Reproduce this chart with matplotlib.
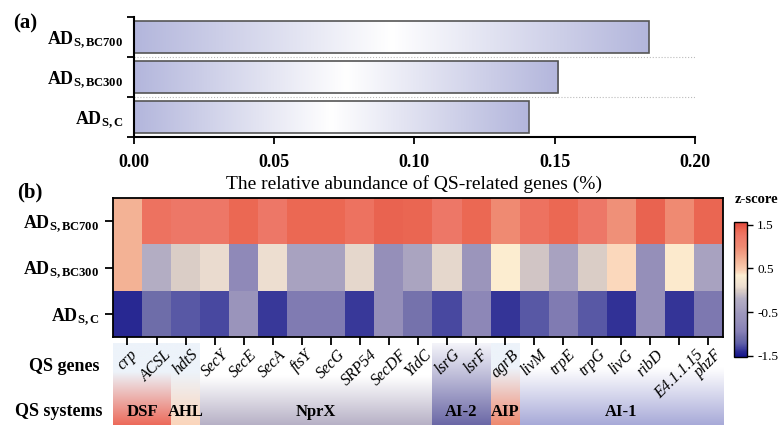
import numpy as np
import matplotlib
matplotlib.use("Agg")
from matplotlib import pyplot as plt
from matplotlib.colors import LinearSegmentedColormap

plt.rcParams['font.family'] = ['Liberation Serif', 'DejaVu Serif']
plt.rcParams['mathtext.fontset'] = 'custom'
plt.rcParams['mathtext.rm'] = 'Liberation Serif'
plt.rcParams['mathtext.bf'] = 'Liberation Serif:bold'
plt.rcParams['mathtext.it'] = 'Liberation Serif:italic'
plt.rcParams['axes.unicode_minus'] = False

# ---- data ----
samples = [r'$\mathbf{AD_{S,BC700}}$', r'$\mathbf{AD_{S,BC300}}$', r'$\mathbf{AD_{S,C}}$']
abundance = [0.1836, 0.1512, 0.1408]   # BC700, BC300, C

genes = ['crp', 'ACSL', 'hdtS', 'SecY', 'SecE', 'SecA', 'ftsY', 'SecG', 'SRP54',
         'SecDF', 'YidC', 'lsrG', 'lsrF', 'agrB', 'livM', 'trpE', 'trpG', 'livG',
         'ribD', 'E4.1.1.15', 'phzF']
z_bc700 = [0.70, 1.30, 1.25, 1.25, 1.38, 1.25, 1.38, 1.38, 1.30, 1.41, 1.40,
           1.25, 1.38, 1.00, 1.30, 1.38, 1.25, 0.95, 1.41, 1.00, 1.40]
z_bc300 = [0.70, -0.20, 0.00, 0.08, -0.80, 0.10, -0.40, -0.40, 0.05, -0.70, -0.35,
           0.05, -0.55, 0.35, -0.05, -0.40, 0.00, 0.43, -0.70, 0.37, -0.38]
z_c = [-1.41, -1.10, -1.25, -1.30, -0.58, -1.35, -0.98, -0.98, -1.35, -0.70, -1.05,
       -1.30, -0.83, -1.37, -1.25, -0.98, -1.25, -1.38, -0.70, -1.37, -1.00]

systems = ['DSF', 'AHL', 'NprX', 'AI-2', 'AIP', 'AI-1']
system_sizes = [2, 1, 8, 2, 1, 7]
system_colors = ['#ec6b5b', '#fbd5bb', '#b7b1c6', '#6b68a6', '#ef8a70', '#a8aad8']
system_tops = ['#edf3fa', '#edf3fa', '#ffffff', '#f4f4fa', '#edf3fa', '#ffffff']
system_start = [0.35, 0.35, 0.40, 0.0, 0.30, 0.30]

fig = plt.figure(figsize=(7.79, 4.25), dpi=100)

# ---- panel (a) ----
ax = fig.add_axes([0.172, 0.678, 0.720, 0.282])
bar_cmap = LinearSegmentedColormap.from_list('bw', ['#b3b6dc', '#ffffff', '#b3b6dc'])
ypos = [2, 1, 0]
h = 0.8
grad = np.linspace(0, 1, 256).reshape(1, -1)
for y, v in zip(ypos, abundance):
    ax.imshow(grad, cmap=bar_cmap, aspect='auto', extent=(0, v, y - h / 2, y + h / 2), zorder=1)
ax.barh(ypos, abundance, height=h, fill=False, edgecolor='#555555', linewidth=1.2, zorder=2)
for b in [0.5, 1.5]:
    ax.plot([0, 0.2], [b, b], ls=':', color='#bbbbbb', lw=0.8, zorder=0)
ax.set_xlim(0, 0.2)
ax.set_ylim(-0.5, 2.5)
ax.set_xticks([0, 0.05, 0.1, 0.15, 0.2])
ax.set_xticklabels(['0.00', '0.05', '0.10', '0.15', '0.20'], fontweight='bold', fontsize=13)
ax.set_yticks([-0.5, 0.5, 1.5, 2.5])
ax.set_yticklabels([])
ax.set_yticks(ypos, minor=True)
ax.set_yticklabels(samples, minor=True, fontsize=13)
ax.tick_params(axis='y', which='minor', length=0, pad=8)
ax.tick_params(axis='y', which='major', length=5, width=1.3, direction='out')
ax.tick_params(axis='x', length=5, width=1.3, pad=7)
ax.spines['top'].set_visible(False)
ax.spines['right'].set_visible(False)
ax.spines['left'].set_linewidth(1.5)
ax.spines['bottom'].set_linewidth(1.5)
ax.set_xlabel('The relative abundance of QS-related genes (%)', fontsize=14, labelpad=3)
fig.text(0.017, 0.945, '(a)', fontsize=15, fontweight='bold', va='center')

# ---- panel (b) ----
vmin, vmax = -1.53, 1.57
zstops = [(-1.53, '#14148a'), (-1.40, '#2c2c94'), (-1.30, '#4c4ca2'), (-1.22, '#6060a8'),
          (-1.08, '#7270aa'), (-0.95, '#8680b6'), (-0.70, '#9690ba'), (-0.55, '#9c96bc'),
          (-0.40, '#a8a2c0'), (-0.20, '#b4aec4'), (0.00, '#dacdc6'), (0.08, '#ecddd0'),
          (0.35, '#fdefd2'), (0.45, '#fbd2b6'), (0.70, '#f4b396'), (1.00, '#ef8a72'),
          (1.25, '#ee7868'), (1.38, '#ec6a55'), (1.57, '#e0453a')]
zcmap = LinearSegmentedColormap.from_list(
    'z', [((v - vmin) / (vmax - vmin), c) for v, c in zstops])

n = len(genes)
# background system bands (drawn first so gene labels sit on top)
bax = fig.add_axes([0.145, 0.0, 0.783, 0.192])
x0 = -0.5
vgrad = np.linspace(0, 1, 200).reshape(-1, 1)
for name, size, col, top, st in zip(systems, system_sizes, system_colors, system_tops, system_start):
    cm = LinearSegmentedColormap.from_list(name, [(0, top), (st, top), (1, col)]) if st > 0 \
        else LinearSegmentedColormap.from_list(name, [top, col])
    bax.imshow(vgrad, cmap=cm, aspect='auto', extent=(x0, x0 + size, 0, 1), origin='upper')
    bax.text(x0 + size / 2, 0.16, name, ha='center', va='center', fontsize=12, fontweight='bold')
    x0 += size
bax.set_xlim(-0.5, n - 0.5)
bax.set_ylim(0, 1)
bax.axis('off')

hax = fig.add_axes([0.145, 0.207, 0.783, 0.327])
data = np.array([z_bc700, z_bc300, z_c])
im = hax.imshow(data, cmap=zcmap, vmin=vmin, vmax=vmax, aspect='auto')
hax.set_yticks(range(3))
hax.set_yticklabels(samples, fontsize=13)
hax.set_xticks(range(n))
hax.set_xticklabels(genes, rotation=45, fontstyle='italic', fontsize=11.5,
                    ha='center', va='top')
hax.tick_params(axis='both', length=6, width=1.3, direction='out')
hax.tick_params(axis='y', pad=4)
hax.tick_params(axis='x', pad=1)
for s in hax.spines.values():
    s.set_linewidth(1.3)

cax = fig.add_axes([0.942, 0.160, 0.0167, 0.318])
cb = fig.colorbar(im, cax=cax, ticks=[-1.5, -0.5, 0.5, 1.5])
cb.ax.set_yticklabels(['-1.5', '-0.5', '0.5', '1.5'], fontsize=9.5)
cb.ax.tick_params(length=4, width=1, direction='out')
cb.outline.set_linewidth(1)
fig.text(0.943, 0.53, 'z-score', fontsize=10.5, fontweight='bold', va='center')

fig.text(0.022, 0.546, '(b)', fontsize=15, fontweight='bold', va='center')
fig.text(0.128, 0.137, 'QS genes', fontsize=13, fontweight='bold', ha='right', va='center')
fig.text(0.132, 0.031, 'QS systems', fontsize=13, fontweight='bold', ha='right', va='center')

fig.savefig('out.png', dpi=100)
